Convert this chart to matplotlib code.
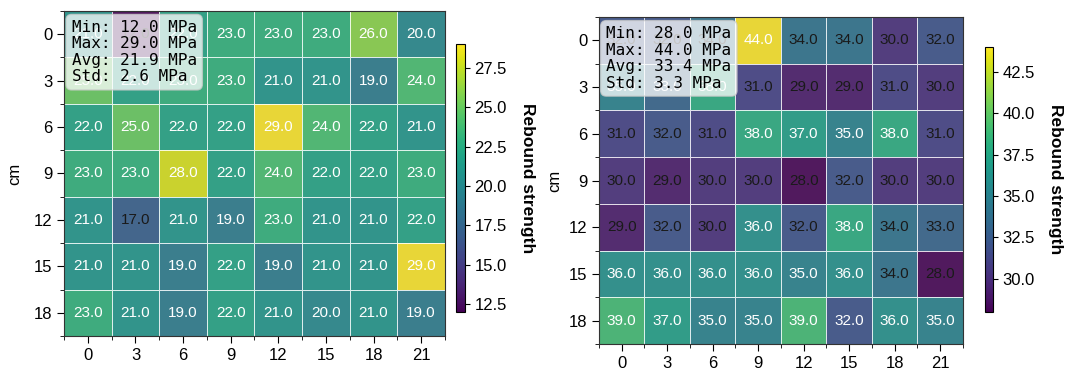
import matplotlib.pyplot as plt
import numpy as np
from matplotlib.ticker import MultipleLocator, FormatStrFormatter

plt.rcParams['font.family'] = ['Liberation Sans', 'DejaVu Sans']

x_labels = ['0', '3', '6', '9', '12', '15', '18', '21']
y_labels = ['0', '3', '6', '9', '12', '15', '18']

left_vals = np.array([
    [21, 12, 22, 23, 23, 23, 26, 20],
    [25, 22, 23, 23, 21, 21, 19, 24],
    [22, 25, 22, 22, 29, 24, 22, 21],
    [23, 23, 28, 22, 24, 22, 22, 23],
    [21, 17, 21, 19, 23, 21, 21, 22],
    [21, 21, 19, 22, 19, 21, 21, 29],
    [23, 21, 19, 22, 21, 20, 21, 19],
], dtype=float)

right_vals = np.array([
    [32, 32, 34, 44, 34, 34, 30, 32],
    [35, 33, 38, 31, 29, 29, 31, 30],
    [31, 32, 31, 38, 37, 35, 38, 31],
    [30, 29, 30, 30, 28, 32, 30, 30],
    [29, 32, 30, 36, 32, 38, 34, 33],
    [36, 36, 36, 36, 35, 36, 34, 28],
    [39, 37, 35, 35, 39, 32, 36, 35],
], dtype=float)

# cells whose label is drawn white in the right panel despite low value
right_white = [(1, 1), (6, 5)]

fig = plt.figure(figsize=(10.67, 3.69), dpi=100)


def heat(ax_pos, cb_pos, vals, white_fn, ylab_x):
    ax = fig.add_axes(ax_pos)
    cax = fig.add_axes(cb_pos)
    nr, nc = vals.shape
    m = ax.pcolormesh(np.arange(nc + 1), np.arange(nr + 1), vals, cmap='viridis',
                      alpha=0.82, edgecolors='white', linewidth=0.5,
                      vmin=vals.min(), vmax=vals.max())
    ax.set_facecolor('#8c8c8c')
    ax.set_xlim(0, nc)
    ax.set_ylim(nr, 0)
    ax.set_xticks(np.arange(nc) + 0.5)
    ax.set_xticklabels(x_labels, fontsize=12)
    ax.set_yticks(np.arange(nr) + 0.5)
    ax.set_yticklabels(y_labels, fontsize=12)
    ax.set_xticks(np.arange(nc + 1), minor=True)
    ax.set_yticks(np.arange(nr + 1), minor=True)
    ax.tick_params(which='major', length=5)
    ax.tick_params(which='minor', length=3)
    for sp in ax.spines.values():
        sp.set_color('#333333')
    for i in range(nr):
        for j in range(nc):
            c = 'white' if white_fn(i, j, vals[i, j]) else '#1a1a1a'
            ax.text(j + 0.5, i + 0.5, f'{vals[i, j]:.1f}', ha='center', va='center',
                    fontsize=11, color=c)
    ax.set_ylabel('cm', fontsize=12)
    ax.yaxis.set_label_coords(ylab_x, 0.5)
    stats = (f'Min: {vals.min():.1f} MPa\nMax: {vals.max():.1f} MPa\n'
             f'Avg: {vals.mean():.1f} MPa\nStd: {vals.std():.1f} MPa')
    ax.text(0.02, 0.972, stats, transform=ax.transAxes, ha='left', va='top',
            family='DejaVu Sans Mono', fontsize=11.5, linespacing=1.12,
            bbox=dict(boxstyle='round,pad=0.35', facecolor='white', edgecolor='#cccccc',
                      alpha=0.75))
    cb = fig.colorbar(m, cax=cax)
    cb.solids.set_alpha(1)
    cb.ax.yaxis.set_major_locator(MultipleLocator(2.5))
    cb.ax.yaxis.set_major_formatter(FormatStrFormatter('%.1f'))
    cb.ax.tick_params(labelsize=12)
    cb.set_label('Rebound strength', rotation=270, fontsize=12.5, fontweight='bold',
                 labelpad=20)
    return ax


heat([0.060, 0.0894, 0.357, 0.881], [0.427, 0.1545, 0.0084, 0.726], left_vals,
     lambda i, j, v: v >= 18, -0.11)
heat([0.5614, 0.0678, 0.341, 0.886], [0.923, 0.1545, 0.0075, 0.718], right_vals,
     lambda i, j, v: v >= 35 or (i, j) in right_white, -0.1)

fig.savefig('out.png', dpi=100)
